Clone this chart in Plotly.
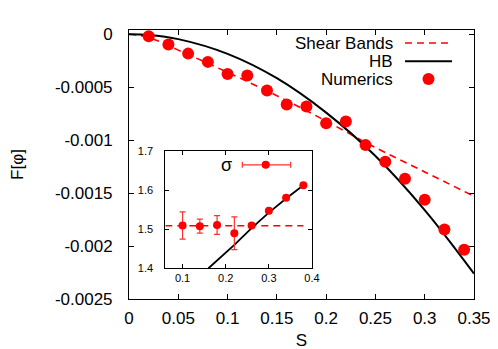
import plotly.graph_objects as go

# main panel: F[phi] vs S
s_num = [0.02, 0.04, 0.06, 0.08, 0.10, 0.12, 0.14, 0.16, 0.18, 0.20, 0.22, 0.24, 0.26, 0.28, 0.30, 0.32, 0.34]
f_num = [-0.00002, -0.000098, -0.000183, -0.000261, -0.000375, -0.00039, -0.000532, -0.000664, -0.000683,
         -0.00084, -0.000825, -0.001047, -0.001205, -0.001365, -0.001563, -0.001843, -0.002035]

s_curve = [0.0, 0.02, 0.05, 0.10, 0.15, 0.20, 0.25, 0.30, 0.35]
f_shear = [0.0, -0.00003, -0.00015, -0.00036, -0.00058, -0.00082, -0.00107, -0.0013, -0.00153]
f_hb = [0.0, -0.000007, -0.000046, -0.000185, -0.000415, -0.00074, -0.00115, -0.00166, -0.00226]

x_ticks = [0, 0.05, 0.1, 0.15, 0.2, 0.25, 0.3, 0.35]
x_labels = ["0", "0.05", "0.1", "0.15", "0.2", "0.25", "0.3", "0.35"]
y_ticks = [0, -0.0005, -0.001, -0.0015, -0.002, -0.0025]
y_labels = ["0", "-0.0005", "-0.001", "-0.0015", "-0.002", "-0.0025"]

# inset: sigma vs S
s_sig = [0.10, 0.14, 0.18, 0.22, 0.26, 0.30, 0.34, 0.38]
sig = [1.51, 1.508, 1.511, 1.49, 1.51, 1.548, 1.581, 1.613]
sig_err = [0.035, 0.018, 0.024, 0.042, 0.0, 0.0, 0.0, 0.0]
s_sig_sb = [0.06, 0.38]
sig_sb = [1.509, 1.509]
s_sig_hb = [0.16, 0.22, 0.26, 0.30, 0.34, 0.38]
sig_hb = [1.40, 1.46, 1.503, 1.543, 1.579, 1.613]

RED = "#ff0000"
FONT = "Liberation Sans"

fig = go.Figure()
fig.add_trace(go.Scatter(x=s_curve, y=f_shear, mode="lines", line=dict(color=RED, width=1.6, dash="7px,5px", shape="spline"),
                         showlegend=False))
fig.add_trace(go.Scatter(x=s_curve, y=f_hb, mode="lines", line=dict(color="black", width=2, shape="spline"),
                         showlegend=False))
fig.add_trace(go.Scatter(x=s_num, y=f_num, mode="markers", marker=dict(color=RED, size=12), showlegend=False))

# inset
fig.add_trace(go.Scatter(x=s_sig_sb, y=sig_sb, xaxis="x2", yaxis="y2", mode="lines",
                         line=dict(color=RED, width=1.6, dash="7px,5px"), showlegend=False))
fig.add_trace(go.Scatter(x=s_sig_hb, y=sig_hb, xaxis="x2", yaxis="y2", mode="lines",
                         line=dict(color="black", width=1.8), showlegend=False))
fig.add_trace(go.Scatter(x=s_sig, y=sig, xaxis="x2", yaxis="y2", mode="markers",
                         marker=dict(color=RED, size=8),
                         error_y=dict(type="data", array=sig_err, color="#ff3030", thickness=1.2, width=3),
                         showlegend=False))

L, R, T, B = 121, 466, 22, 290.7
W, H = R - L, B - T


def px(x):
    return (x - L) / W


def py(y):
    return (B - y) / H


# hand-made legend (text left of sample, as in gnuplot)
shapes = []
annotations = []
rows = [("Shear Bands", 35), ("HB", 53.3), ("Numerics", 71)]
for name, yy in rows:
    annotations.append(dict(x=px(386), y=py(yy), xref="paper", yref="paper", text=name, showarrow=False,
                            xanchor="right", yanchor="middle", height=16, borderpad=0,
                            font=dict(size=17, family=FONT, color="black")))
shapes.append(dict(type="line", xref="paper", yref="paper", x0=px(397), x1=px(444), y0=py(35), y1=py(35),
                   line=dict(color=RED, width=1.6, dash="7px,5px")))
shapes.append(dict(type="line", xref="paper", yref="paper", x0=px(397), x1=px(444), y0=py(53.3), y1=py(53.3),
                   line=dict(color="black", width=2)))
shapes.append(dict(type="circle", xref="paper", yref="paper", x0=px(414.5), x1=px(426.5), y0=py(65), y1=py(77),
                   fillcolor=RED, line=dict(color=RED, width=0)))

# inset legend
annotations.append(dict(x=px(218), y=py(156.7), xref="paper", yref="paper", text="σ", showarrow=False,
                        xanchor="center", yanchor="middle", font=dict(size=18, family=FONT, color="black")))
shapes.append(dict(type="line", xref="paper", yref="paper", x0=px(234.3), x1=px(282.7), y0=py(156.7), y1=py(156.7),
                   line=dict(color="#ff3030", width=1.2)))
for xc in (234.3, 282.7):
    shapes.append(dict(type="line", xref="paper", yref="paper", x0=px(xc), x1=px(xc), y0=py(153.7), y1=py(159.7),
                       line=dict(color="#ff3030", width=1.2)))
shapes.append(dict(type="circle", xref="paper", yref="paper", x0=px(253.7), x1=px(261.7), y0=py(152.7), y1=py(160.7),
                   fillcolor=RED, line=dict(color=RED, width=0)))

axis_common = dict(showline=True, mirror="ticks", linecolor="black", linewidth=1, ticks="inside",
                   showgrid=False, zeroline=False, tickcolor="black", automargin=False)

fig.update_layout(
    width=498, height=349,
    margin=dict(l=L, r=498 - R, t=T, b=349 - B),
    plot_bgcolor="white", paper_bgcolor="white",
    font=dict(family=FONT, color="black", size=17),
    xaxis=dict(range=[0, 0.35], tickvals=x_ticks, ticktext=x_labels, ticklen=5, ticklabelstandoff=4,
               title=dict(text="S", standoff=6, font=dict(size=17)), **axis_common),
    yaxis=dict(range=[-0.0025, 0.00004], tickvals=y_ticks, ticktext=y_labels, ticklen=5, ticklabelstandoff=12,
               title=dict(text="F[φ]", standoff=32, font=dict(size=17)), **axis_common),
    xaxis2=dict(domain=[px(157.3), px(304)], anchor="y2", range=[0.06, 0.4],
                tickvals=[0.1, 0.2, 0.3, 0.4], ticktext=["0.1", "0.2", "0.3", "0.4"], ticklen=4,
                ticklabelstandoff=0, tickfont=dict(size=11), **axis_common),
    yaxis2=dict(domain=[py(260), py(143.3)], anchor="x2", range=[1.4, 1.7],
                tickvals=[1.4, 1.5, 1.6, 1.7], ticktext=["1.4", "1.5", "1.6", "1.7"], ticklen=4,
                ticklabelstandoff=9, tickfont=dict(size=11), **axis_common),
    shapes=shapes,
    annotations=annotations,
)

fig.write_html("out.html")
